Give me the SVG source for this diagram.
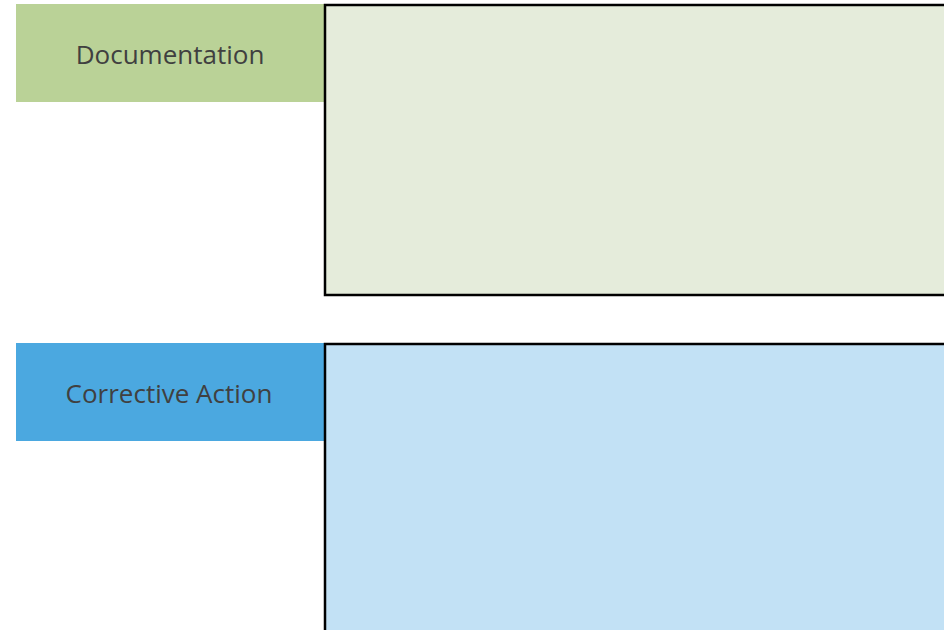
<svg xmlns="http://www.w3.org/2000/svg" width="944" height="630" viewBox="0 0 944 630">
<style>
.lbl{font-family:"Open Sans","Noto Sans",sans-serif;font-size:26px;fill:#404040;text-anchor:middle;dominant-baseline:central}
.panel{stroke:#000;stroke-width:2.5}
</style>
<rect width="944" height="630" fill="#fff"/>
<g id="documentation-label">
<rect x="16" y="4" width="309" height="98" fill="#BAD297"/>
<text class="lbl" x="170" y="54">Documentation</text>
</g>
<g id="documentation-panel">
<rect class="panel" x="325" y="5" width="622" height="290" fill="#E5ECDB"/>
</g>
<g id="corrective-label">
<rect x="16" y="343" width="309" height="98" fill="#4BA8E0"/>
<text class="lbl" x="169" y="393">Corrective Action</text>
</g>
<g id="corrective-panel">
<rect class="panel" x="325" y="344" width="622" height="290" fill="#C2E1F5"/>
</g>
<g id="connectors"/>
</svg>
